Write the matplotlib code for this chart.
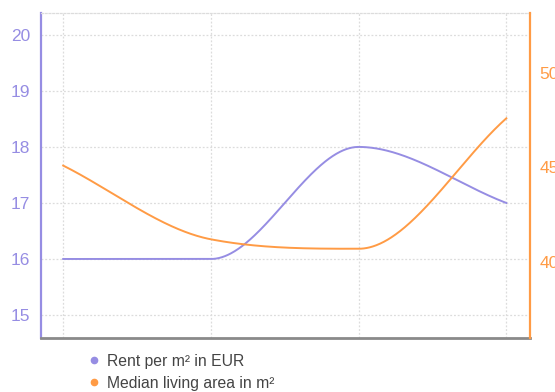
import numpy as np
import matplotlib.pyplot as plt
from matplotlib.lines import Line2D

plt.rcParams['font.family'] = ['Liberation Sans', 'DejaVu Sans']

periods = [0, 1, 2, 3]
rent_per_m2 = [16, 16, 18, 17]
living_area = [45.1, 41.2, 40.7, 47.6]

left_ticks = [15, 16, 17, 18, 19, 20]
right_ticks = [40, 45, 50]

purple = '#968de3'
orange = '#ff9b45'


def monotone_curve(x, y, n=200):
    # Fritsch-Carlson monotone cubic interpolation
    x = np.asarray(x, float)
    y = np.asarray(y, float)
    h = np.diff(x)
    d = np.diff(y) / h
    m = np.zeros_like(y)
    m[0], m[-1] = d[0], d[-1]
    for i in range(1, len(y) - 1):
        if d[i - 1] * d[i] <= 0:
            m[i] = 0
        else:
            m[i] = (d[i - 1] + d[i]) / 2
    for i in range(len(d)):
        if d[i] == 0:
            m[i] = m[i + 1] = 0
            continue
        a, b = m[i] / d[i], m[i + 1] / d[i]
        s = a * a + b * b
        if s > 9:
            t = 3 / np.sqrt(s)
            m[i], m[i + 1] = t * a * d[i], t * b * d[i]
    xs, ys = [], []
    for i in range(len(d)):
        t = np.linspace(0, 1, n)
        h00 = 2 * t**3 - 3 * t**2 + 1
        h10 = t**3 - 2 * t**2 + t
        h01 = -2 * t**3 + 3 * t**2
        h11 = t**3 - t**2
        xs.append(x[i] + t * h[i])
        ys.append(h00 * y[i] + h10 * h[i] * m[i] + h01 * y[i + 1] + h11 * h[i] * m[i + 1])
    return np.concatenate(xs), np.concatenate(ys)


fig = plt.figure(figsize=(5.55, 3.92), dpi=100)
ax = fig.add_axes([0.0739, 0.1378, 0.881, 0.829])
ax2 = ax.twinx()

ax.set_xlim(-0.15, 3.16)
ax.set_ylim(14.59, 20.39)
ax2.set_ylim(35.98, 53.17)

ax.set_yticks(left_ticks)
ax2.set_yticks(right_ticks)
ax.set_xticks(periods)
ax.set_xticklabels([])

ax.grid(True, color='#dcdcdc', linestyle=(0, (1.5, 1.5)), linewidth=0.9)
ax.set_axisbelow(True)

xr, yr = monotone_curve(periods, rent_per_m2)
ax.plot(xr, yr, color=purple, linewidth=1.4, zorder=3)
xa, ya = monotone_curve(periods, living_area)
ax2.plot(xa, ya, color=orange, linewidth=1.4, zorder=3)

# dotted top border like the grid
ax.spines['top'].set_color('#dcdcdc')
ax.spines['top'].set_linestyle((0, (1.5, 1.5)))
ax.spines['top'].set_linewidth(0.9)
ax2.spines['top'].set_visible(False)
ax.spines['right'].set_visible(False)
ax2.spines['left'].set_visible(False)
ax.spines['left'].set_color(purple)
ax.spines['left'].set_linewidth(1.6)
ax2.spines['right'].set_color(orange)
ax2.spines['right'].set_linewidth(1.6)
ax2.spines['bottom'].set_visible(False)
ax.spines['bottom'].set_color('#8a8a8a')
ax.spines['bottom'].set_linewidth(2)

ax.tick_params(axis='y', length=0, labelcolor=purple, labelsize=12.5, pad=8)
ax.tick_params(axis='x', length=0)
ax2.tick_params(axis='y', length=0, labelcolor=orange, labelsize=12.5, pad=7)

handles = [
    Line2D([], [], marker='o', linestyle='none', markersize=4.5, color=purple),
    Line2D([], [], marker='o', linestyle='none', markersize=4.5, color=orange),
]
fig.legend(handles, ['Rent per m² in EUR', 'Median living area in m²'],
           loc='upper left', bbox_to_anchor=(0.141, 0.118), frameon=False,
           fontsize=11.3, labelcolor='#444444', handletextpad=0.35,
           handlelength=1.0, labelspacing=0.45, borderpad=0)

fig.savefig('out.png', dpi=100)
